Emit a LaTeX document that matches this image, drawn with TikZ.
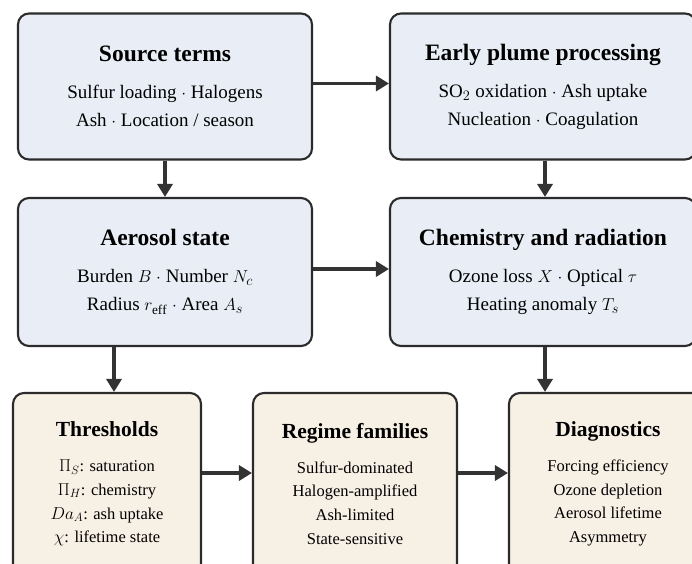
\documentclass[tikz,border=0pt]{standalone}
\usepackage{fontspec}
\setmainfont{Liberation Serif}
\usetikzlibrary{arrows.meta}
\definecolor{upfill}{HTML}{E9EEF6}
\definecolor{lowfill}{HTML}{F7F0E5}
\definecolor{edge}{HTML}{2B2B2B}
\definecolor{arrowgray}{HTML}{333333}
\newcommand\uptitle{\fontsize{23.5}{28}\selectfont\bfseries}
\newcommand\lowtitle{\fontsize{21.5}{24}\selectfont\bfseries}
\tikzset{
  box/.style={draw=edge, line width=2.1pt, rounded corners=11pt, align=center, inner sep=0pt},
  upbox/.style={box, fill=upfill, minimum height=146pt, font=\fontsize{19}{28}\selectfont},
  lowbox/.style={box, fill=lowfill, minimum height=182pt, font=\fontsize{16.5}{23.8}\selectfont},
  flow/.style={draw=arrowgray, line width=3.4pt, -{Triangle[length=13pt,width=15pt]}}
}
\begin{document}
\begin{tikzpicture}[x=1pt,y=1pt]
    \useasboundingbox (0,0) rectangle (692,563);
    \clip (0,0) rectangle (692,563);
    \fill[white] (0,0) rectangle (692,563);
    % upper rows
    \node[upbox, minimum width=294pt] (src) at (165,476.5)
      {{\uptitle Source terms}\\[9pt] Sulfur loading $\cdot$ Halogens\\ Ash $\cdot$ Location / season};
    \node[upbox, minimum width=306pt] (plume) at (543,476.5)
      {{\uptitle Early plume processing}\\[9pt] SO$_2$ oxidation $\cdot$ Ash uptake\\ Nucleation $\cdot$ Coagulation};
    \node[upbox, minimum width=294pt, minimum height=148pt] (aer) at (165,291)
      {{\uptitle Aerosol state}\\[9pt] Burden $B$ $\cdot$ Number $N_c$\\ Radius $r_{\mathrm{eff}}$ $\cdot$ Area $A_s$};
    \node[upbox, minimum width=306pt, minimum height=148pt] (chem) at (543,291)
      {{\uptitle Chemistry and radiation}\\[9pt] Ozone loss $X$ $\cdot$ Optical $\tau$\\ Heating anomaly $T_s$};
    % bottom row
    \node[lowbox, minimum width=188pt] (thr) at (107,79)
      {{\lowtitle Thresholds}\\[11pt] $\Pi_S$: saturation\\ $\Pi_H$: chemistry\\ $Da_A$: ash uptake\\ $\chi$: lifetime state};
    \node[lowbox, minimum width=204pt] (reg) at (355,79)
      {{\lowtitle Regime families}\\[11pt] Sulfur-dominated\\ Halogen-amplified\\ Ash-limited\\ State-sensitive};
    \node[lowbox, minimum width=198pt] (diag) at (608,79)
      {{\lowtitle Diagnostics}\\[11pt] Forcing efficiency\\ Ozone depletion\\ Aerosol lifetime\\ Asymmetry};
    % connectors
    \draw[flow] ([yshift=3pt]src.east) -- ([yshift=3pt]src.east -| plume.west);
    \draw[flow] (src.south) -- (src.south |- aer.north);
    \draw[flow] ([xshift=2pt]plume.south) -- ([xshift=2pt]plume.south |- chem.north);
    \draw[flow] ([yshift=3pt]aer.east) -- ([yshift=3pt]aer.east -| chem.west);
    \draw[flow] ([xshift=7pt]thr.north |- aer.south) -- ([xshift=7pt]thr.north);
    \draw[flow] ([xshift=2pt]chem.south) -- ([xshift=2pt]chem.south |- diag.north);
    \draw[flow] ([yshift=11pt]thr.east) -- ([yshift=11pt]thr.east -| reg.west);
    \draw[flow] ([yshift=11pt]reg.east) -- ([yshift=11pt]reg.east -| diag.west);
\end{tikzpicture}
\end{document}
